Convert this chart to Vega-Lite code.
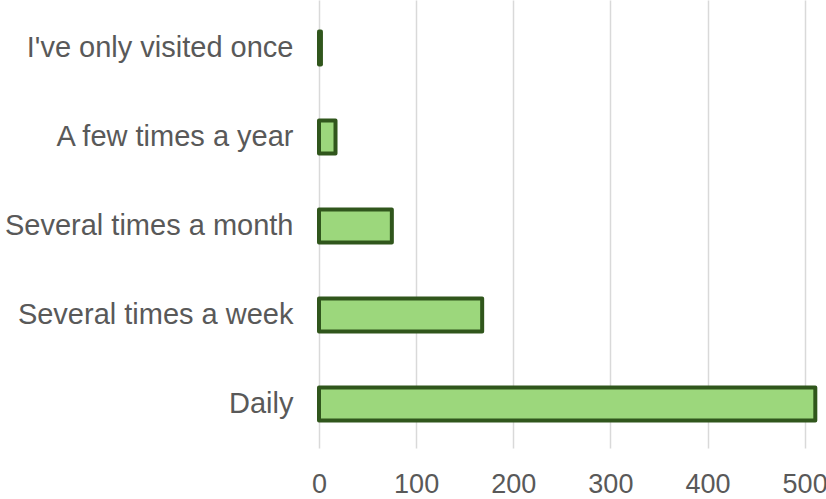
{
  "$schema": "https://vega.github.io/schema/vega-lite/v6.json",
  "width": 507,
  "height": 448,
  "autosize": "none",
  "padding": {"left": 319, "top": 0, "right": 0, "bottom": 51},
  "background": "white",
  "data": {"values": [
    {"answer": "I've only visited once", "count": 2},
    {"answer": "A few times a year", "count": 17},
    {"answer": "Several times a month", "count": 75},
    {"answer": "Several times a week", "count": 168},
    {"answer": "Daily", "count": 511}
  ]},
  "mark": {"type": "bar", "fill": "#9cd77c", "stroke": "#30561c", "strokeWidth": 4, "strokeJoin": "round", "size": 33, "yOffset": 2},
  "encoding": {
    "y": {"field": "answer", "type": "nominal", "sort": null, "title": null,
      "scale": {"paddingInner": 0.6, "paddingOuter": 0.317},
      "axis": {"domain": false, "ticks": false, "labelFont": "Liberation Sans", "labelFontSize": 29, "labelColor": "#595959", "labelPadding": 26, "labelLimit": 400, "labelOffset": 2, "grid": false}},
    "x": {"field": "count", "type": "quantitative", "title": null,
      "scale": {"domain": [0, 522], "nice": false},
      "axis": {"values": [0, 100, 200, 300, 400, 500], "domain": false, "ticks": false, "grid": true, "gridColor": "#d9d9d9", "gridWidth": 1.5, "labelFont": "Liberation Sans", "labelFontSize": 27, "labelColor": "#595959", "labelPadding": 23, "labelFlush": false}}
  },
  "config": {"view": {"stroke": null}}
}
